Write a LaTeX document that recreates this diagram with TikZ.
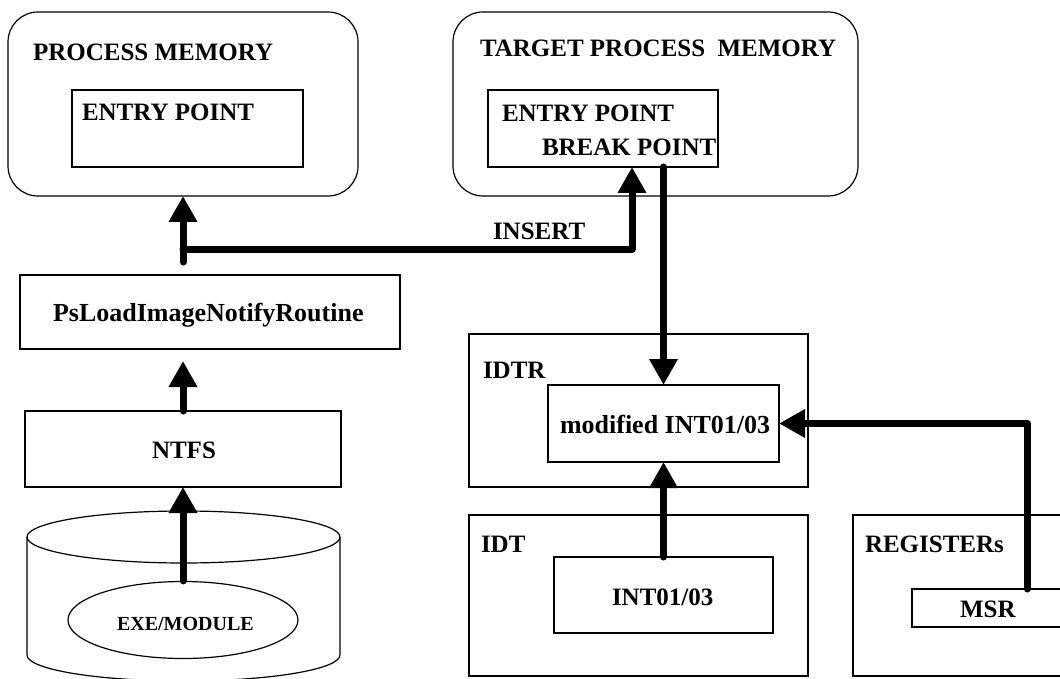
\documentclass[tikz,border=0pt]{standalone}
\usepackage{fontspec}
\setmainfont{Liberation Serif}
\usetikzlibrary{arrows.meta,shapes.geometric}
\begin{document}
\begin{tikzpicture}[x=1pt,y=-1pt,
  box/.style={draw,line width=1.2pt,inner sep=0pt,outer sep=0pt,rectangle},
  rbox/.style={box,rounded corners=30pt},
  lbl/.style={anchor=base west,inner sep=0pt,outer sep=0pt,font=\bfseries\fontsize{25}{30}\selectfont},
  lblb/.style={lbl,font=\bfseries\fontsize{26}{30}\selectfont},
  arr/.style={line width=7pt,line cap=round,line join=round,-{Triangle[width=27pt,length=26pt]}}]
\useasboundingbox (0,0) rectangle (1060,679);
\clip (0,0) rectangle (1060,679);
\fill[white] (0,0) rectangle (1060,679);
% boxes
\node[rbox,minimum width=350pt,minimum height=184pt] (pm) at (183,104) {};
\node[box,minimum width=231pt,minimum height=77pt] (pmin) at (187.5,128.5) {};
\node[rbox,minimum width=405pt,minimum height=184pt] (tpm) at (655.5,104) {};
\node[box,minimum width=230pt,minimum height=77pt] (tpin) at (603,128.5) {};
\node[box,minimum width=380pt,minimum height=74pt] (ps) at (210,312) {};
\node[box,minimum width=316pt,minimum height=76pt] (ntfs) at (183,449) {};
\node[box,minimum width=339pt,minimum height=153pt] (idtr) at (638.5,410.5) {};
\node[box,minimum width=231pt,minimum height=77pt] (mod) at (663.5,423.5) {};
\node[box,minimum width=339pt,minimum height=161pt] (idt) at (638.5,595.5) {};
\node[box,minimum width=219pt,minimum height=76pt] (int) at (663.5,595) {};
\node[box,minimum width=222pt,minimum height=161pt] (reg) at (964,595.5) {};
\node[box,minimum width=163pt,minimum height=38pt] (msr) at (993.5,608) {};
% cylinder
\draw[line width=1.2pt] (183.5,537) ellipse [x radius=156.5pt,y radius=26pt];
\draw[line width=1.2pt] (27,537) -- (27,655) arc[start angle=180,end angle=360,x radius=156.5pt,y radius=26pt] -- (340,537);
\node[draw,line width=1.2pt,ellipse,inner sep=0pt,minimum width=230pt,minimum height=77pt] (exe) at (183,620) {};
% labels
\node[lbl] (t1) at (33,61) {PROCESS MEMORY};
\node[lbl] (t2) at (82,121) {ENTRY POINT};
\node[lbl] (t3) at (480,57) {TARGET PROCESS\hspace{6pt} MEMORY};
\node[lbl] (t4) at (502,122) {ENTRY POINT};
\node[lbl] (t5) at (542,156) {BREAK POINT};
\node[lbl] (t6) at (493,240) {INSERT};
\node[lblb] (t7) at (53,321) {PsLoadImageNotifyRoutine};
\node[lbl] (t8) at (152,458) {NTFS};
\node[lbl,font=\bfseries\fontsize{20}{24}\selectfont] (t9) at (117,630) {EXE/MODULE};
\node[lbl] (t10) at (483,378) {IDTR};
\node[lblb] (t11) at (560,433) {modified INT01/03};
\node[lbl] (t12) at (481,552) {IDT};
\node[lbl] (t13) at (612,605) {INT01/03};
\node[lbl] (t14) at (865,552) {REGISTERs};
\node[lbl] (t15) at (960,617) {MSR};
% connectors
\coordinate (j) at (183,249);
\draw[arr] (exe.north) -- (ntfs.south);
\draw[arr,shorten >=12pt] (ntfs.north) -- (ps.south -| ntfs.north);
\draw[arr,shorten <=13pt] (ps.north -| pm.south) -- (pm.south);
\draw[arr] (j) -| ([xshift=29pt]tpin.south);
\draw[arr] (mod.north |- tpin.south) -- (mod.north);
\draw[arr] (int.north) -- (mod.south);
\draw[arr] ([xshift=33.5pt]msr.north) |- (mod.east);
\end{tikzpicture}
\end{document}
